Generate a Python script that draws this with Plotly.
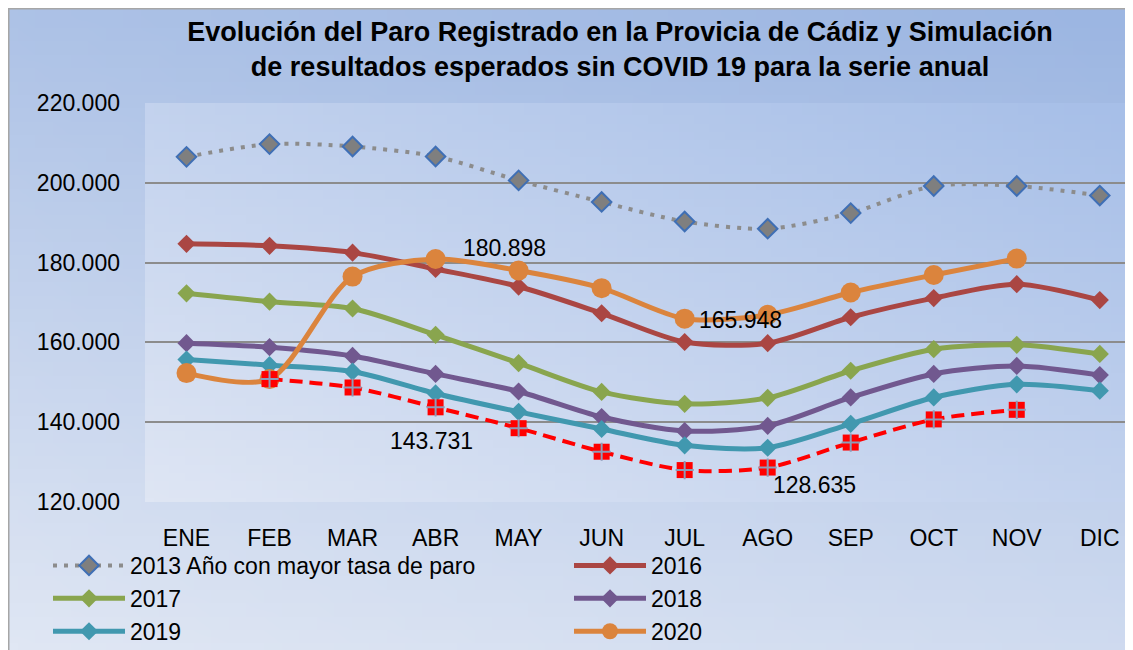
import base64
import struct
import zlib

import numpy as np
import plotly.graph_objects as go

# ---------------- data ----------------
months = ["ENE", "FEB", "MAR", "ABR", "MAY", "JUN", "JUL", "AGO", "SEP", "OCT", "NOV", "DIC"]
y2013 = [206500, 209700, 209100, 206600, 200600, 195200, 190300, 188500, 192400, 199200, 199200, 196800]
y2016 = [184700, 184200, 182500, 178400, 174000, 167300, 160100, 159800, 166300, 171100, 174600, 170600]
y2017 = [172300, 170200, 168500, 161900, 154800, 147600, 144600, 146100, 152900, 158300, 159400, 157100]
y2018 = [159800, 158800, 156600, 152100, 147700, 141300, 137800, 139100, 146200, 152100, 154100, 151800]
y2019 = [155700, 154300, 152700, 147200, 142600, 138300, 134200, 133600, 139600, 146200, 149500, 147900]
y2020 = [152300, 150800, 176500, 180898, 178000, 173600, 165948, 166900, 172500, 176900, 181000, None]
sim = [None, 150800, 148700, 143731, 138500, 132600, 128000, 128635, 134900, 140700, 143100, None]
series_names = ["2013 Año con mayor tasa de paro", "2016", "2017", "2018", "2019", "2020"]
title_lines = ["Evolución del Paro Registrado en la Provicia de Cádiz y Simulación",
               "de resultados esperados sin COVID 19 para la serie anual"]

# ---------------- layout geometry (figure pixels; page has an 8px body margin) ----------------
W, H = 1125, 642
ML, MR, MT, MB = 137, 0, 95, 148
PW, PH = W - ML - MR, H - MT - MB


def px2x(px):
    return (px - ML) / PW


def py2y(py):
    return (H - MB - py) / PH


def png_uri(arr):
    h, w, _ = arr.shape
    raw = b"".join(b"\x00" + arr[i].tobytes() for i in range(h))

    def chunk(tag, data):
        c = struct.pack(">I", len(data)) + tag + data
        return c + struct.pack(">I", zlib.crc32(tag + data) & 0xFFFFFFFF)

    png = b"\x89PNG\r\n\x1a\n" + chunk(b"IHDR", struct.pack(">IIBBBBB", w, h, 8, 2, 0, 0, 0))
    png += chunk(b"IDAT", zlib.compress(raw, 9)) + chunk(b"IEND", b"")
    return "data:image/png;base64," + base64.b64encode(png).decode()


def gradient(w, h, c_a, c_b, mode):
    yy, xx = np.mgrid[0:h, 0:w]
    u = xx / (w - 1)
    v = 1 - yy / (h - 1)
    if mode == "diag":
        t = (u + v) / 2
    else:
        t = 0.75 * v + 0.25 * u
    c_a = np.array(c_a, float)
    c_b = np.array(c_b, float)
    img = c_a[None, None, :] + (c_b - c_a)[None, None, :] * t[..., None]
    return np.clip(img, 0, 255).astype(np.uint8)


outer_img = png_uri(gradient(64, 48, (224, 231, 244), (156, 182, 226), "vert"))
plot_img = png_uri(gradient(64, 48, (223, 230, 244), (167, 191, 232), "diag"))

FONT = "Liberation Sans, Arial, sans-serif"
fig = go.Figure()

# 2013
fig.add_trace(go.Scatter(
    x=months, y=y2013, name=series_names[0], mode="lines+markers",
    line=dict(color="#8C8C8C", width=4, dash="4px,7px", shape="spline", smoothing=0.8),
    marker=dict(symbol="diamond", size=15, color="#7F7F7F", line=dict(color="#3F6FB5", width=2)),
))

colors = ["#AA4643", "#89A54E", "#71588F", "#4198AF"]
for name, ys, col in zip(series_names[1:5], [y2016, y2017, y2018, y2019], colors):
    fig.add_trace(go.Scatter(
        x=months, y=ys, name=name, mode="lines+markers",
        line=dict(color=col, width=5, shape="spline", smoothing=0.8),
        marker=dict(symbol="diamond", size=14, color=col),
    ))

fig.add_trace(go.Scatter(
    x=months, y=y2020, name=series_names[5], mode="lines+markers",
    line=dict(color="#DB843D", width=5, shape="spline", smoothing=0.8),
    marker=dict(symbol="circle", size=20, color="#DB843D"),
))

# simulation (no visible legend entry)
fig.add_trace(go.Scatter(
    x=months, y=sim, name="Simulación sin COVID 19", mode="lines+markers", showlegend=False,
    line=dict(color="#FF0000", width=4, dash="13px,7px", shape="spline", smoothing=0.8),
    marker=dict(symbol="square", size=16, color="#FF0000"),
))
fig.add_trace(go.Scatter(
    x=months, y=sim, mode="markers", showlegend=False, hoverinfo="skip",
    marker=dict(symbol="cross-thin", size=13, line=dict(color="#8E9BB8", width=2)),
))


def fmt(v):
    return f"{v:,}".replace(",", ".")


labels = [
    (months[3], y2020[3], 69, 11),
    (months[6], y2020[6], 56, -1),
    (months[3], sim[3], -4, -34),
    (months[7], sim[7], 47, -17),
]
annotations = [
    dict(x=xv, y=yv, text=fmt(yv), showarrow=False, xshift=dx, yshift=dy,
         font=dict(family=FONT, size=23, color="#000000"))
    for xv, yv, dx, dy in labels
]

images = [
    dict(source=outer_img, xref="paper", yref="paper", x=px2x(0), y=py2y(0),
         sizex=W / PW, sizey=H / PH, xanchor="left", yanchor="top",
         sizing="stretch", layer="below"),
    dict(source=plot_img, xref="paper", yref="paper", x=0, y=1, sizex=1, sizey=1,
         xanchor="left", yanchor="top", sizing="stretch", layer="below"),
]

shapes = [
    dict(type="line", xref="paper", yref="paper", x0=px2x(0), x1=px2x(W + 5),
         y0=py2y(0.5), y1=py2y(0.5), line=dict(color="#A6A6A6", width=2)),
    dict(type="line", xref="paper", yref="paper", x0=px2x(0.5), x1=px2x(0.5),
         y0=py2y(0), y1=py2y(H + 5), line=dict(color="#A6A6A6", width=2)),
]

fig.update_layout(
    width=W, height=H,
    margin=dict(l=ML, r=MR, t=MT, b=MB, autoexpand=False),
    paper_bgcolor="#FFFFFF", plot_bgcolor="rgba(0,0,0,0)",
    separators=",.",
    font=dict(family=FONT, size=23, color="#000000"),
    title=dict(text="<b>" + title_lines[0] + "<br>" + title_lines[1] + "</b>",
               x=612 / W, xanchor="center", y=1 - 33 / H, yanchor="middle",
               font=dict(family=FONT, size=27, color="#000000")),
    xaxis=dict(range=[-0.5, 11.4], showgrid=False, zeroline=False, showline=False,
               ticks="", ticklabelstandoff=20, tickfont=dict(size=23)),
    yaxis=dict(range=[120000, 220000], dtick=20000, tickformat=",d",
               showgrid=True, gridcolor="#8C8C8C", gridwidth=2, zeroline=False,
               showline=False, ticks="", ticklabelstandoff=24, tickfont=dict(size=23)),
    legend=dict(orientation="h", xref="paper", yref="paper",
                x=px2x(40), y=py2y(536), xanchor="left", yanchor="top",
                entrywidth=434, itemwidth=72, bgcolor="rgba(0,0,0,0)",
                font=dict(size=23), traceorder="normal"),
    annotations=annotations,
    images=images,
    shapes=shapes,
)

fig.write_html("out.html")
